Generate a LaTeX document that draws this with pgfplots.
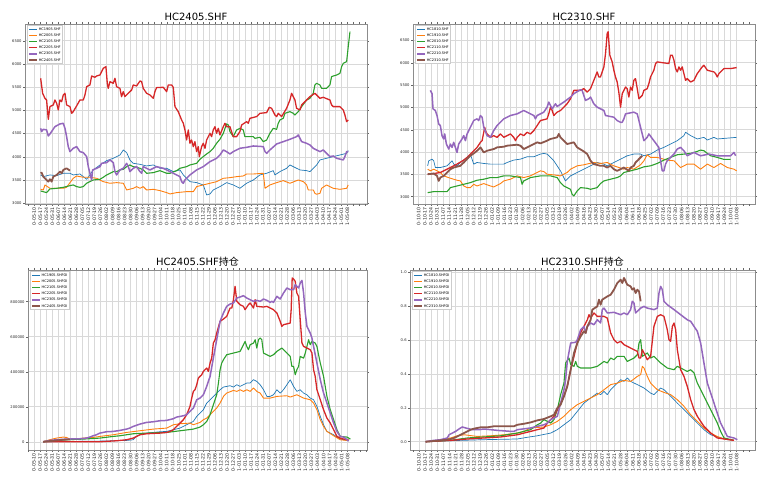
\documentclass[border=0pt]{standalone}
\usepackage{fontspec}
\setmainfont{DejaVu Sans}
\newfontfamily\cjk{Noto Sans CJK SC}
\usepackage{pgfplots}
\pgfplotsset{compat=1.18}
\definecolor{c0}{HTML}{1F77B4}
\definecolor{c1}{HTML}{FF7F0E}
\definecolor{c2}{HTML}{2CA02C}
\definecolor{c3}{HTML}{D62728}
\definecolor{c4}{HTML}{9467BD}
\definecolor{c5}{HTML}{8C564B}
\pgfplotsset{
 s0/.style={c0, line width=0.7pt},
 s1/.style={c1, line width=0.9pt},
 s2/.style={c2, line width=1.1pt},
 s3/.style={c3, line width=1.3pt},
 s4/.style={c4, line width=1.5pt},
 s5/.style={c5, line width=1.8pt},
 base/.style={
  scale only axis, height=180pt,
  axis line style={draw=black!45, line width=0.6pt},
  grid=major, grid style={draw=black!15, line width=0.5pt},
  tick align=outside, major tick length=2pt,
  tick style={black!60, line width=0.4pt},
  ticklabel style={text=black!85},
  xticklabel style={rotate=90, anchor=east, inner sep=1pt, font=\fontsize{4.7}{4.7}\selectfont},
  yticklabel style={inner sep=1.2pt, font=\fontsize{3.7}{3.7}\selectfont},
  /pgf/number format/assume math mode=true,
  /pgf/number format/1000 sep={},
  /pgf/number format/fixed,
  scaled y ticks=false,
  extra x tick labels={}, extra x tick style={grid=none},
  every axis plot/.append style={no marks, sharp plot, line join=round},
  legend style={at={(0.006,0.992)}, anchor=north west, draw=black!20, fill=white,
   font=\fontsize{3.5}{4}\selectfont, inner sep=1pt, row sep=1.4pt,
   nodes={inner sep=0.7pt, text height=2.7pt, text depth=0.7pt}},
  legend cell align=left,
  legend image code/.code={\draw[##1] (0pt,0pt) -- (8pt,0pt);},
  title style={font=\fontsize{10}{10}\selectfont, yshift=-3.5pt, inner sep=1pt},
 },
 labA/.style={xtick={0,7,...,364}, extra x ticks={-7,371,378,385}, xticklabels={0-05-10,0-05-17,0-05-24,0-05-31,0-06-07,0-06-14,0-06-21,0-06-28,0-07-05,0-07-12,0-07-19,0-07-26,0-08-02,0-08-09,0-08-16,0-08-23,0-08-30,0-09-06,0-09-13,0-09-20,0-09-27,0-10-04,0-10-11,0-10-18,0-10-25,0-11-01,0-11-08,0-11-15,0-11-22,0-11-29,0-12-06,0-12-13,0-12-20,0-12-27,1-01-03,1-01-10,1-01-17,1-01-24,1-01-31,1-02-07,1-02-14,1-02-21,1-02-28,1-03-06,1-03-13,1-03-20,1-03-27,1-04-03,1-04-10,1-04-17,1-04-24,1-05-01,1-05-08}},
 labB/.style={xtick={0,7,...,364}, extra x ticks={-7,371,378}, xticklabels={0-10-10,0-10-17,0-10-24,0-10-31,0-11-07,0-11-14,0-11-21,0-11-28,0-12-05,0-12-12,0-12-19,0-12-26,1-01-02,1-01-09,1-01-16,1-01-23,1-01-30,1-02-06,1-02-13,1-02-20,1-02-27,1-03-05,1-03-12,1-03-19,1-03-26,1-04-02,1-04-09,1-04-16,1-04-23,1-04-30,1-05-07,1-05-14,1-05-21,1-05-28,1-06-04,1-06-11,1-06-18,1-06-25,1-07-02,1-07-09,1-07-16,1-07-23,1-07-30,1-08-06,1-08-13,1-08-20,1-08-27,1-09-03,1-09-10,1-09-17,1-09-24,1-10-01,1-10-08}},
}
\begin{document}
\begin{tikzpicture}
\path[use as bounding box] (0pt,0pt) rectangle (768pt,486pt);
% ---------------- top left
\begin{axis}[base, labA, at={(25pt,282pt)}, anchor=south west, width=342pt,
 xmin=-10.8, xmax=386.9, ymin=2985, ymax=6860, ytick={3000,3500,...,6500},
 title={HC2405.SHF}]
\addplot[s0] coordinates {(7.4,3610)(10.5,3574)(18.2,3610)(26.0,3596)(33.7,3646)(41.5,3646)(45.3,3610)(53.1,3631)(57.0,3574)(60.9,3517)(64.7,3610)(68.6,3718)(76.4,3825)(84.1,3918)(91.9,3969)(95.7,4005)(99.6,4040)(103.5,4148)(107.4,4091)(111.2,3933)(115.1,3861)(122.9,3839)(130.6,3804)(138.4,3825)(146.1,3753)(153.9,3753)(161.6,3682)(169.4,3718)(173.3,3610)(177.1,3538)(181.0,3466)(188.8,3445)(196.5,3395)(198.5,3287)(200.4,3179)(204.3,3201)(208.1,3287)(215.9,3359)(223.6,3445)(231.4,3395)(239.1,3323)(246.9,3431)(254.7,3502)(262.4,3610)(270.2,3646)(277.9,3703)(279.8,3610)(285.7,3682)(293.4,3753)(297.3,3825)(301.2,3789)(308.9,3718)(316.7,3703)(320.5,3682)(328.3,3825)(332.2,3933)(339.9,3969)(347.7,4005)(355.4,4040)(363.2,4076)(365.1,4134)};
\addlegendentry{HC1905.SHF}
\addplot[s1] coordinates {(7.4,3301)(10.5,3287)(12.4,3395)(18.2,3323)(33.7,3323)(37.6,3344)(41.5,3445)(45.3,3538)(49.2,3588)(57.0,3560)(64.7,3560)(72.5,3538)(80.2,3466)(88.0,3431)(95.7,3445)(103.5,3431)(107.4,3287)(115.1,3323)(119.0,3359)(122.9,3323)(126.7,3359)(130.6,3287)(138.4,3301)(146.1,3273)(153.9,3230)(157.8,3201)(165.5,3230)(177.1,3251)(184.9,3251)(188.8,3359)(196.5,3395)(204.3,3431)(212.0,3466)(219.8,3538)(227.5,3552)(235.3,3574)(243.0,3588)(246.9,3631)(254.7,3631)(266.3,3646)(268.3,3323)(274.0,3395)(281.8,3445)(289.5,3488)(297.3,3431)(307.0,3502)(312.8,3466)(316.7,3395)(318.6,3287)(324.4,3287)(326.3,3215)(328.3,3194)(332.2,3215)(334.1,3323)(339.9,3395)(347.7,3323)(355.4,3301)(363.2,3323)(365.1,3395)};
\addlegendentry{HC2005.SHF}
\addplot[s2] coordinates {(7.4,3265)(14.3,3230)(18.2,3309)(26.0,3323)(33.7,3344)(41.5,3380)(45.3,3395)(49.2,3359)(53.1,3344)(57.0,3359)(60.9,3431)(64.7,3466)(68.6,3502)(76.4,3517)(80.2,3560)(84.1,3610)(88.0,3646)(91.9,3682)(95.7,3682)(99.6,3718)(103.5,3732)(107.4,3789)(111.2,3825)(115.1,3789)(119.0,3775)(122.9,3753)(126.7,3718)(130.6,3646)(138.4,3660)(146.1,3703)(153.9,3646)(157.8,3646)(165.5,3703)(169.4,3753)(177.1,3789)(181.0,3825)(188.8,3861)(192.6,3947)(196.5,4005)(200.4,4062)(204.3,4112)(208.1,4184)(212.0,4292)(215.9,4378)(219.8,4507)(223.6,4708)(225.6,4686)(227.5,4543)(231.4,4435)(235.3,4579)(239.1,4614)(243.0,4579)(244.9,4435)(248.8,4435)(254.7,4435)(256.6,4399)(262.4,4421)(266.3,4327)(270.2,4363)(274.0,4507)(277.9,4614)(281.8,4593)(283.7,4722)(285.7,4794)(289.5,4830)(291.5,4937)(297.3,4973)(301.2,4937)(303.1,4901)(307.0,4973)(310.9,5081)(316.7,5224)(320.5,5260)(324.4,5368)(326.3,5547)(328.3,5583)(332.2,5547)(334.1,5475)(339.9,5475)(343.8,5547)(345.7,5727)(351.5,5762)(355.4,5798)(357.4,5942)(359.3,6014)(363.2,6049)(365.1,6372)(367.1,6695)};
\addlegendentry{HC2105.SHF}
\addplot[s3] coordinates {(7.4,5691)(9.7,5368)(12.4,5260)(14.3,5224)(16.3,4808)(18.2,5081)(22.1,5117)(24.0,5224)(26.0,5153)(27.9,5009)(29.8,5224)(31.8,5188)(33.7,5332)(35.7,5368)(37.6,5117)(41.5,5081)(43.4,4937)(45.3,4973)(49.2,5095)(53.1,5224)(57.0,5224)(58.9,5332)(60.9,5511)(64.7,5547)(66.7,5741)(70.5,5712)(72.5,5741)(76.4,5762)(80.2,5906)(83.3,5942)(84.9,5583)(86.0,5475)(88.0,5619)(91.9,5583)(93.8,5691)(95.7,5511)(99.6,5475)(101.5,5296)(103.5,5404)(105.4,5296)(109.3,5368)(113.2,5440)(115.1,5547)(119.0,5526)(122.9,5633)(124.8,5619)(126.7,5475)(130.6,5368)(134.5,5332)(138.4,5260)(140.3,5404)(142.2,5490)(150.0,5497)(153.9,5404)(155.8,5547)(159.7,5547)(161.6,5497)(163.6,5081)(167.4,4973)(171.3,4794)(173.3,4722)(175.2,4579)(177.1,4363)(179.1,4579)(181.0,4292)(182.9,4363)(184.9,4220)(186.8,4327)(188.8,4112)(190.7,4220)(191.9,4005)(194.6,4220)(196.5,4292)(198.5,4184)(200.4,4363)(204.3,4507)(206.2,4435)(208.1,4579)(210.1,4650)(212.0,4507)(214.0,4614)(215.9,4471)(219.8,4650)(221.7,4722)(223.6,4650)(227.5,4650)(231.4,4435)(235.3,4435)(239.1,4543)(241.1,4686)(246.9,4758)(248.8,4722)(250.8,4830)(258.5,4866)(262.4,4937)(270.2,4952)(273.3,5066)(276.0,5045)(279.8,4901)(281.8,4866)(283.7,4937)(287.6,4866)(293.4,5045)(297.3,5224)(299.2,5368)(303.1,5224)(305.0,5045)(308.9,5009)(310.9,5117)(316.7,5224)(320.5,5296)(326.3,5368)(332.2,5260)(336.0,5282)(343.8,5224)(345.7,5117)(347.7,5081)(355.4,5081)(359.3,5009)(361.2,4901)(363.2,4758)(365.1,4794)};
\addlegendentry{HC2205.SHF}
\addplot[s4] coordinates {(7.4,4614)(8.5,4543)(10.5,4593)(14.3,4579)(16.3,4449)(18.2,4492)(24.0,4650)(29.8,4708)(33.7,4722)(35.7,4614)(37.6,4435)(39.5,4220)(41.5,4112)(45.3,4184)(49.2,4220)(53.1,4112)(57.0,4091)(60.9,4005)(62.8,3789)(64.7,3646)(66.7,3502)(67.8,3718)(72.5,3753)(76.4,3789)(78.3,3861)(84.1,3875)(88.0,3933)(91.9,3875)(93.8,3682)(95.7,3610)(99.6,3718)(103.5,3753)(107.4,3861)(109.3,3789)(111.2,3682)(115.1,3753)(119.0,3789)(122.9,3682)(124.8,3646)(126.7,3789)(134.5,3718)(142.2,3789)(150.0,3753)(157.8,3682)(165.5,3610)(169.4,3574)(171.3,3466)(173.3,3431)(175.2,3502)(181.0,3610)(188.8,3718)(196.5,3789)(204.3,3897)(212.0,3969)(215.9,4040)(219.8,4148)(223.6,4112)(227.5,4062)(231.4,4112)(239.1,4184)(246.9,4205)(254.7,4234)(266.3,4220)(268.3,4112)(270.2,4076)(274.0,4148)(281.8,4277)(289.5,4327)(297.3,4378)(305.0,4435)(307.0,4471)(310.9,4327)(316.7,4292)(320.5,4256)(324.4,4184)(332.2,4112)(336.0,4148)(339.9,4076)(343.8,4005)(347.7,4019)(351.5,3969)(359.3,3933)(361.2,4005)(363.2,4112)(365.1,4112)};
\addlegendentry{HC2305.SHF}
\addplot[s5] coordinates {(7.4,3646)(8.5,3660)(10.5,3574)(14.3,3502)(16.3,3466)(18.2,3517)(20.2,3466)(22.1,3574)(26.0,3610)(29.8,3682)(31.8,3646)(33.7,3718)(37.6,3753)(41.5,3703)};
\addlegendentry{HC2405.SHF}
\end{axis}
% ---------------- top right
\begin{axis}[base, labB, at={(413pt,282pt)}, anchor=south west, width=342pt,
 xmin=-6.5, xmax=385, ymin=2836, ymax=6868, ytick={3000,3500,...,6500},
 title={HC2310.SHF}]
\addplot[s0] coordinates {(10.3,3691)(11.5,3804)(15.3,3841)(17.2,3804)(19.1,3653)(24.8,3653)(32.5,3691)(36.3,3766)(38.2,3804)(40.1,3729)(43.9,3691)(47.7,3766)(55.4,3879)(59.2,3939)(61.1,3841)(63.0,3729)(66.8,3766)(74.5,3744)(82.1,3729)(89.7,3729)(97.4,3729)(101.2,3766)(108.8,3819)(116.5,3841)(124.1,3894)(131.8,3894)(139.4,3954)(143.2,3969)(147.0,3954)(150.9,3879)(154.7,3804)(158.5,3691)(162.3,3578)(166.1,3428)(168.0,3353)(169.9,3391)(173.8,3466)(181.4,3541)(189.0,3616)(196.7,3691)(204.3,3766)(212.0,3729)(215.8,3691)(223.4,3766)(231.1,3841)(238.7,3916)(246.3,3954)(254.0,3954)(257.8,3916)(265.4,3954)(273.1,4044)(280.7,4104)(288.3,4179)(296.0,4254)(303.6,4367)(305.5,4442)(311.3,4367)(318.9,4292)(326.5,4329)(330.4,4269)(338.0,4329)(341.8,4292)(364.0,4329)};
\addlegendentry{HC1810.SHF}
\addplot[s1] coordinates {(10.3,3616)(13.4,3578)(17.2,3616)(21.0,3578)(24.8,3541)(28.6,3466)(36.3,3413)(43.9,3368)(47.7,3353)(51.6,3240)(55.4,3203)(59.2,3203)(63.0,3278)(66.8,3240)(74.5,3293)(82.1,3240)(85.9,3218)(93.6,3293)(97.4,3353)(105.0,3391)(112.7,3466)(120.3,3428)(127.9,3466)(135.6,3541)(139.4,3578)(143.2,3563)(147.0,3503)(154.7,3488)(162.3,3466)(169.9,3541)(173.8,3616)(181.4,3691)(189.0,3714)(200.5,3766)(208.1,3744)(215.8,3766)(223.4,3691)(234.9,3616)(238.7,3653)(246.3,3616)(254.0,3714)(257.8,3804)(261.6,3939)(265.4,3879)(273.1,3879)(284.5,3819)(292.2,3804)(299.8,3653)(307.4,3729)(315.1,3729)(322.7,3616)(330.4,3729)(338.0,3653)(345.6,3744)(353.3,3653)(360.9,3616)(364.0,3578)};
\addlegendentry{HC1910.SHF}
\addplot[s2] coordinates {(10.3,3090)(17.2,3113)(24.8,3113)(32.5,3113)(36.3,3203)(43.9,3240)(51.6,3278)(59.2,3315)(66.8,3368)(74.5,3391)(82.1,3428)(89.7,3428)(97.4,3466)(105.0,3466)(116.5,3428)(118.4,3278)(120.3,3353)(127.9,3428)(139.4,3466)(150.9,3466)(158.5,3428)(162.3,3315)(166.1,3240)(173.8,3165)(175.7,3053)(177.6,3015)(181.4,3128)(185.2,3203)(192.9,3188)(196.7,3165)(204.3,3203)(208.1,3293)(212.0,3353)(219.6,3391)(227.2,3428)(231.1,3466)(234.9,3541)(242.5,3578)(250.2,3616)(257.8,3668)(265.4,3691)(273.1,3744)(280.7,3819)(288.3,3879)(296.0,3939)(303.6,3954)(311.3,3969)(318.9,4014)(322.7,4044)(326.5,4029)(330.4,3969)(334.2,3916)(341.8,3879)(349.5,3834)(357.1,3834)};
\addlegendentry{HC2010.SHF}
\addplot[s3] coordinates {(10.3,3503)(17.2,3518)(24.8,3541)(28.6,3578)(36.3,3653)(43.9,3729)(51.6,3819)(55.4,3879)(59.2,3954)(63.0,4029)(66.8,4104)(70.7,4217)(72.6,4254)(74.5,4442)(75.6,4555)(76.4,4480)(78.3,4405)(82.1,4329)(85.9,4367)(89.7,4329)(93.6,4405)(97.4,4329)(101.2,4367)(105.0,4405)(108.8,4329)(110.8,4254)(112.7,4329)(116.5,4405)(120.3,4367)(124.1,4442)(127.9,4405)(131.8,4480)(135.6,4592)(139.4,4705)(147.0,4743)(148.9,4855)(150.9,5005)(152.8,4930)(154.7,4818)(158.5,4893)(162.3,4930)(166.1,5005)(169.9,5081)(173.8,5193)(177.6,5381)(185.2,5381)(189.0,5419)(192.9,5343)(196.7,5419)(200.5,5606)(204.3,5794)(206.2,5681)(208.1,5681)(212.0,5907)(213.9,6207)(215.8,6658)(216.9,6695)(218.8,6170)(221.5,6019)(223.4,5832)(225.3,5681)(227.2,5569)(229.1,5343)(231.1,5005)(233.0,5306)(236.8,5456)(238.7,5419)(240.6,5231)(242.5,5456)(244.4,5381)(246.3,5606)(248.2,5644)(250.2,5419)(252.1,5193)(255.9,5268)(257.8,5381)(261.6,5419)(263.5,5531)(265.4,5681)(267.3,5757)(269.2,5832)(271.2,5982)(273.1,6019)(280.7,5997)(286.4,5982)(288.3,6170)(290.3,6170)(292.2,6057)(294.1,5869)(296.0,5794)(297.9,5907)(299.8,5832)(301.7,5907)(303.6,5757)(305.5,5606)(307.4,5644)(311.3,5569)(315.1,5606)(318.9,5757)(324.6,5907)(326.5,5944)(330.4,5832)(338.0,5794)(339.9,5757)(341.8,5681)(343.7,5757)(349.5,5869)(357.1,5869)(364.0,5892)};
\addlegendentry{HC2110.SHF}
\addplot[s4] coordinates {(13.4,5381)(15.3,5306)(16.4,4968)(19.1,4930)(21.0,4818)(22.9,4630)(24.8,4592)(26.7,4367)(28.6,4292)(29.8,4405)(31.7,4179)(34.4,4067)(36.3,4179)(38.2,4104)(40.1,4217)(42.0,4104)(43.9,3991)(45.8,4179)(49.6,4292)(51.6,4367)(53.5,4254)(55.4,4405)(59.2,4555)(63.0,4705)(66.8,4743)(68.7,4705)(70.7,4818)(72.6,4780)(74.5,4555)(78.3,4367)(82.1,4329)(85.9,4480)(89.7,4592)(97.4,4743)(105.0,4818)(112.7,4855)(120.3,4930)(127.9,4855)(131.8,4818)(133.7,4743)(135.6,4818)(143.2,4893)(147.0,5005)(148.9,5118)(150.9,5043)(152.8,4968)(156.6,5081)(158.5,5020)(166.1,5118)(173.8,5231)(177.6,5306)(185.2,5396)(187.1,5381)(189.0,5268)(190.9,5156)(194.8,5193)(196.7,5231)(200.5,5081)(204.3,5005)(212.0,4930)(213.9,4818)(223.4,4780)(227.2,4705)(231.1,4667)(233.0,4667)(234.9,4743)(236.8,4855)(246.3,4893)(250.2,4855)(252.1,4705)(254.0,4555)(255.9,4405)(257.8,4254)(261.6,4329)(263.5,4405)(269.2,4254)(274.9,4104)(276.9,3804)(278.8,3578)(280.7,3578)(282.6,3729)(284.5,3804)(292.2,3954)(296.0,4067)(299.8,4104)(303.6,4029)(307.4,3916)(315.1,3991)(322.7,3916)(332.3,3954)(341.8,3916)(357.1,3916)(360.9,3991)(362.8,3916)};
\addlegendentry{HC2210.SHF}
\addplot[s5] coordinates {(10.3,3503)(17.2,3518)(21.0,3466)(22.9,3353)(24.8,3428)(28.6,3466)(32.5,3541)(36.3,3616)(40.1,3653)(47.7,3691)(51.6,3766)(55.4,3841)(59.2,3916)(63.0,3969)(66.8,4029)(70.7,4104)(74.5,3991)(78.3,4029)(85.9,4067)(89.7,4104)(97.4,4119)(101.2,4142)(112.7,4164)(116.5,4142)(120.3,4067)(124.1,4104)(131.8,4179)(135.6,4217)(139.4,4194)(147.0,4254)(150.9,4292)(158.5,4329)(160.4,4405)(162.3,4329)(166.1,4254)(169.9,4179)(177.6,4217)(181.4,4104)(189.0,4014)(192.9,3954)(196.7,3804)(200.5,3729)(208.1,3691)(212.0,3691)(215.8,3653)(219.6,3691)(223.4,3616)(227.2,3578)(231.1,3616)(234.9,3653)(240.6,3578)(242.5,3653)(246.3,3691)(248.2,3766)(250.2,3804)(254.0,3879)(255.9,3916)};
\addlegendentry{HC2310.SHF}
\end{axis}
% ---------------- bottom left
\begin{axis}[base, labA, at={(28pt,36pt)}, anchor=south west, width=339pt,
 xmin=-7, xmax=386.4, ymin=-47000, ymax=981000, ytick={0,200000,400000,600000,800000},
 yticklabels={0,200000,400000,600000,800000},
 title={HC2405.SHF{\cjk 持仓}}]
\addplot[s0] coordinates {(10.5,0)(76.4,3810)(107.4,7620)(115.1,11430)(119.0,30480)(122.9,40000)(130.6,49520)(146.1,57140)(153.9,59050)(161.6,68570)(169.4,78100)(177.1,97140)(184.9,116190)(188.8,144760)(192.6,163810)(196.5,182860)(200.4,220950)(204.3,240000)(208.1,259050)(212.0,278100)(215.9,297140)(219.8,312380)(227.5,320000)(231.4,312380)(235.3,325710)(239.1,316190)(246.9,335240)(250.8,335240)(254.7,354290)(258.5,344760)(262.4,325710)(266.3,297140)(270.2,259050)(274.0,259050)(277.9,268570)(281.8,297140)(285.7,278100)(289.5,297140)(293.4,325710)(297.3,354290)(301.2,316190)(305.0,287620)(308.9,297140)(312.8,278100)(316.7,268570)(320.5,249520)(324.4,240000)(328.3,201900)(332.2,144760)(336.0,97140)(339.9,59050)(347.7,40000)(351.5,26670)(355.4,15240)(365.1,5710)};
\addlegendentry{HC1905.SHFOI}
\addplot[s1] coordinates {(10.5,0)(18.2,11430)(26.0,20950)(33.7,26670)(37.6,24760)(41.5,15240)(45.3,11430)(57.0,20950)(68.6,24760)(76.4,30480)(91.9,40000)(107.4,53330)(122.9,62860)(138.4,72380)(153.9,78100)(157.8,87620)(161.6,97140)(169.4,102860)(181.0,106670)(184.9,97140)(192.6,110480)(196.5,125710)(200.4,135240)(204.3,154290)(208.1,173330)(212.0,192380)(215.9,220950)(219.8,259050)(223.6,278100)(231.4,293330)(235.3,287620)(239.1,297140)(243.0,287620)(246.9,297140)(250.8,287620)(254.7,306670)(258.5,287620)(262.4,278100)(266.3,249520)(274.0,249520)(281.8,259050)(293.4,262860)(297.3,255240)(305.0,268570)(312.8,249520)(320.5,240000)(324.4,220950)(328.3,182860)(332.2,125710)(336.0,87620)(339.9,59050)(347.7,34290)(355.4,11430)(363.2,7620)};
\addlegendentry{HC2005.SHFOI}
\addplot[s2] coordinates {(10.5,0)(37.6,11430)(57.0,15240)(76.4,20950)(91.9,30480)(99.6,34290)(115.1,45710)(130.6,49520)(153.9,53330)(169.4,62860)(184.9,72380)(192.6,83810)(196.5,97140)(200.4,116190)(204.3,154290)(208.1,211430)(212.0,268570)(214.0,335240)(215.9,411430)(217.8,449520)(219.8,468570)(223.6,497140)(231.4,506670)(239.1,516190)(241.1,535240)(243.0,554290)(244.9,573330)(246.9,544760)(248.8,525710)(250.8,554290)(254.7,563810)(256.6,582860)(258.5,535240)(260.5,582860)(262.4,592380)(264.3,582860)(266.3,506670)(274.0,487620)(277.9,497140)(281.8,516190)(287.6,535240)(293.4,506670)(297.3,487620)(299.2,430480)(301.2,430480)(303.1,382860)(305.0,411430)(307.0,430480)(308.9,487620)(312.8,478100)(314.8,506670)(318.6,582860)(320.5,554290)(322.5,573330)(326.3,563810)(328.3,544760)(330.2,497140)(332.2,449520)(336.0,373330)(339.9,259050)(343.8,182860)(347.7,125710)(351.5,68570)(355.4,30480)(363.2,26670)(367.1,15240)};
\addlegendentry{HC2105.SHFOI}
\addplot[s3] coordinates {(10.5,0)(76.4,0)(95.7,5710)(107.4,11430)(115.1,20950)(122.9,40000)(130.6,45710)(146.1,49520)(153.9,53330)(157.8,59050)(161.6,68570)(165.5,87620)(169.4,106670)(173.3,125710)(177.1,154290)(181.0,201900)(183.0,249520)(184.9,287620)(186.8,297140)(188.8,325710)(190.7,363810)(192.6,373330)(194.6,382860)(196.5,401900)(200.4,420950)(202.3,401900)(204.3,449520)(206.2,478100)(208.1,563810)(210.1,582860)(212.0,620950)(215.9,687620)(219.8,700950)(223.6,716190)(227.5,763810)(229.5,763810)(231.4,811430)(233.3,887620)(235.3,801900)(239.1,782860)(243.0,773330)(244.9,754290)(248.8,782860)(250.8,792380)(254.7,763810)(256.6,811430)(258.5,773330)(266.3,769520)(270.2,773330)(274.0,763810)(277.9,754290)(281.8,735240)(285.7,687620)(287.6,659050)(289.5,668570)(297.3,678100)(298.4,754290)(299.6,935240)(301.2,929520)(303.1,916190)(305.0,849520)(307.0,830480)(308.9,697140)(310.9,563810)(312.8,544760)(316.7,535240)(320.5,525710)(322.5,506670)(324.4,411430)(326.3,373330)(328.3,297140)(332.2,240000)(336.0,182860)(339.9,135240)(343.8,106670)(347.7,68570)(351.5,30480)(355.4,20950)(359.3,15240)(365.1,11430)};
\addlegendentry{HC2205.SHFOI}
\addplot[s4] coordinates {(10.5,0)(18.2,7620)(26.0,11430)(37.6,15240)(53.1,17140)(60.9,20950)(64.7,26670)(68.6,34290)(72.5,40000)(76.4,49520)(84.1,57140)(91.9,59050)(99.6,64760)(107.4,72380)(111.2,78100)(115.1,87620)(122.9,100950)(130.6,110480)(138.4,114290)(146.1,120000)(153.9,121900)(161.6,131430)(165.5,140950)(173.3,148570)(177.1,154290)(181.0,173330)(184.9,192380)(188.8,240000)(192.6,249520)(196.5,268570)(200.4,316190)(204.3,373330)(208.1,478100)(212.0,582860)(215.9,687620)(219.8,735240)(223.6,773330)(227.5,786670)(231.4,792380)(235.3,820950)(239.1,826670)(243.0,834290)(246.9,820950)(254.7,801900)(258.5,807620)(262.4,801900)(266.3,815240)(270.2,807620)(274.0,796190)(276.0,801900)(277.9,796190)(281.8,830480)(285.7,815240)(289.5,849520)(293.4,878100)(297.3,868570)(301.2,868570)(303.1,897140)(307.0,878100)(308.9,906670)(310.9,921900)(312.8,849520)(314.8,735240)(316.7,659050)(320.5,620950)(322.5,592380)(324.4,544760)(328.3,449520)(332.2,354290)(336.0,278100)(339.9,220950)(343.8,163810)(347.7,106670)(351.5,59050)(355.4,30480)(359.3,26670)(363.2,11430)(365.1,3810)};
\addlegendentry{HC2305.SHFOI}
\addplot[s5] coordinates {(10.5,0)(18.2,3810)(26.0,7620)(33.7,11430)(41.5,13330)};
\addlegendentry{HC2405.SHFOI}
\end{axis}
% ---------------- bottom right
\begin{axis}[base, labB, at={(410pt,36pt)}, anchor=south west, width=345pt,
 xmin=-10.3, xmax=385, ymin=-0.049, ymax=1.014, ytick={0,0.2,0.4,0.6,0.8,1.0},
 yticklabels={0.0,0.2,0.4,0.6,0.8,1.0},
 title={HC2310.SHF{\cjk 持仓}}]
\addplot[s0] coordinates {(7.6,0)(36.3,0.006)(74.5,0.012)(112.7,0.016)(124.1,0.026)(135.6,0.035)(150.9,0.051)(158.5,0.071)(166.1,0.100)(173.8,0.130)(181.4,0.179)(189.0,0.228)(196.7,0.258)(204.3,0.287)(208.1,0.278)(212.0,0.297)(215.8,0.278)(219.6,0.307)(227.2,0.346)(231.1,0.366)(234.9,0.356)(238.7,0.376)(242.5,0.356)(250.2,0.337)(257.8,0.317)(265.4,0.287)(269.2,0.278)(276.9,0.317)(280.7,0.307)(288.3,0.268)(296.0,0.228)(303.6,0.189)(311.3,0.150)(318.9,0.110)(326.5,0.071)(334.2,0.041)(341.8,0.028)(353.3,0.012)(360.9,0.008)};
\addlegendentry{HC1810.SHFOI}
\addplot[s1] coordinates {(7.6,0)(28.6,0.012)(36.3,0.022)(43.9,0.035)(51.6,0.041)(66.8,0.031)(82.1,0.035)(97.4,0.041)(112.7,0.051)(120.3,0.061)(127.9,0.081)(143.2,0.087)(150.9,0.100)(158.5,0.120)(166.1,0.150)(173.8,0.189)(181.4,0.219)(189.0,0.238)(196.7,0.258)(204.3,0.278)(212.0,0.307)(219.6,0.337)(227.2,0.346)(234.9,0.362)(242.5,0.356)(246.3,0.370)(250.2,0.386)(254.0,0.396)(255.9,0.445)(257.8,0.435)(261.6,0.386)(265.4,0.346)(273.1,0.307)(280.7,0.291)(288.3,0.278)(296.0,0.248)(303.6,0.209)(311.3,0.159)(318.9,0.120)(326.5,0.081)(334.2,0.051)(341.8,0.031)(349.5,0.016)(360.9,0.008)};
\addlegendentry{HC1910.SHFOI}
\addplot[s2] coordinates {(7.6,0)(36.3,0.008)(55.4,0.022)(74.5,0.028)(93.6,0.035)(112.7,0.051)(127.9,0.071)(135.6,0.100)(139.4,0.110)(143.2,0.130)(147.0,0.120)(150.9,0.110)(154.7,0.130)(158.5,0.189)(162.3,0.278)(166.1,0.346)(168.0,0.465)(171.9,0.494)(173.8,0.455)(177.6,0.445)(179.5,0.474)(181.4,0.445)(185.2,0.435)(196.7,0.435)(204.3,0.445)(212.0,0.474)(215.8,0.465)(219.6,0.494)(223.4,0.484)(227.2,0.504)(234.9,0.504)(238.7,0.474)(246.3,0.494)(250.2,0.514)(252.1,0.583)(254.0,0.602)(255.9,0.504)(261.6,0.524)(265.4,0.494)(269.2,0.504)(276.9,0.465)(284.5,0.435)(292.2,0.425)(296.0,0.445)(303.6,0.425)(307.4,0.415)(311.3,0.425)(315.1,0.406)(318.9,0.346)(326.5,0.268)(334.2,0.189)(341.8,0.110)(345.6,0.061)(349.5,0.022)(360.9,0.008)};
\addlegendentry{HC2010.SHFOI}
\addplot[s3] coordinates {(7.6,0)(36.3,0.008)(55.4,0.016)(74.5,0.022)(93.6,0.028)(112.7,0.041)(120.3,0.051)(127.9,0.061)(135.6,0.071)(143.2,0.081)(147.0,0.110)(150.9,0.130)(154.7,0.150)(158.5,0.189)(162.3,0.228)(166.1,0.268)(169.9,0.327)(173.8,0.425)(177.6,0.504)(181.4,0.583)(185.2,0.642)(189.0,0.681)(192.9,0.720)(194.8,0.750)(196.7,0.730)(200.5,0.760)(204.3,0.740)(212.0,0.740)(215.8,0.730)(219.6,0.642)(223.4,0.602)(227.2,0.583)(231.1,0.593)(234.9,0.573)(242.5,0.553)(250.2,0.533)(252.1,0.494)(254.0,0.494)(255.9,0.543)(257.8,0.524)(261.6,0.484)(265.4,0.504)(269.2,0.681)(273.1,0.740)(276.9,0.750)(280.7,0.740)(284.5,0.661)(286.4,0.602)(288.3,0.593)(290.3,0.681)(292.2,0.701)(294.1,0.661)(296.0,0.543)(299.8,0.425)(303.6,0.386)(307.4,0.327)(311.3,0.248)(315.1,0.189)(318.9,0.150)(326.5,0.091)(334.2,0.051)(341.8,0.022)(360.9,0.008)};
\addlegendentry{HC2110.SHFOI}
\addplot[s4] coordinates {(7.6,0)(17.2,0.008)(24.8,0.012)(32.5,0.022)(34.4,0.041)(38.2,0.051)(42.0,0.061)(45.8,0.075)(49.6,0.087)(53.5,0.081)(61.1,0.071)(68.7,0.071)(74.5,0.075)(89.7,0.067)(105.0,0.061)(108.8,0.061)(112.7,0.071)(127.9,0.081)(135.6,0.091)(143.2,0.100)(147.0,0.110)(150.9,0.130)(158.5,0.150)(162.3,0.228)(166.1,0.307)(168.0,0.366)(169.9,0.474)(173.8,0.583)(179.5,0.587)(181.4,0.602)(185.2,0.661)(189.0,0.681)(191.0,0.642)(192.9,0.681)(196.7,0.701)(200.5,0.691)(204.3,0.720)(208.1,0.701)(210.0,0.780)(212.0,0.789)(215.8,0.760)(223.4,0.764)(231.1,0.750)(234.9,0.760)(238.7,0.750)(242.5,0.780)(244.4,0.829)(246.3,0.819)(248.2,0.760)(250.2,0.770)(254.0,0.789)(257.8,0.799)(261.6,0.789)(269.2,0.780)(273.1,0.789)(275.0,0.878)(276.9,0.917)(278.8,0.898)(280.7,0.829)(284.5,0.809)(292.2,0.780)(299.8,0.750)(307.4,0.720)(311.3,0.711)(315.1,0.681)(318.9,0.652)(322.7,0.583)(326.5,0.465)(330.4,0.346)(334.2,0.287)(338.0,0.228)(341.8,0.169)(345.6,0.110)(349.5,0.071)(353.3,0.031)(360.9,0.022)(364.7,0.012)};
\addlegendentry{HC2210.SHFOI}
\addplot[s5] coordinates {(7.6,0)(17.2,0.004)(24.8,0.008)(32.5,0.012)(36.3,0.016)(40.1,0.022)(43.9,0.031)(47.7,0.041)(51.6,0.051)(55.4,0.061)(59.2,0.071)(63.0,0.077)(70.7,0.085)(78.3,0.085)(85.9,0.091)(108.8,0.091)(112.7,0.100)(120.3,0.106)(127.9,0.114)(135.6,0.126)(143.2,0.134)(150.9,0.150)(154.7,0.159)(158.5,0.199)(162.3,0.219)(166.1,0.268)(169.9,0.327)(173.8,0.425)(177.6,0.524)(181.4,0.583)(185.2,0.622)(189.0,0.652)(191.0,0.642)(192.9,0.681)(196.7,0.720)(198.6,0.780)(204.3,0.799)(206.2,0.839)(208.1,0.809)(210.0,0.839)(215.8,0.858)(219.6,0.868)(223.4,0.898)(227.2,0.937)(231.1,0.957)(233.0,0.937)(234.9,0.967)(236.8,0.947)(238.7,0.927)(242.5,0.917)(244.4,0.898)(246.3,0.907)(248.2,0.878)(250.2,0.898)(252.1,0.888)(254.0,0.829)};
\addlegendentry{HC2310.SHFOI}
\node[anchor=south west, font=\fontsize{3.5}{4}\selectfont, inner sep=0.5pt, text=black!85] at (rel axis cs:0,1) {1e6};
\end{axis}
\end{tikzpicture}
\end{document}
